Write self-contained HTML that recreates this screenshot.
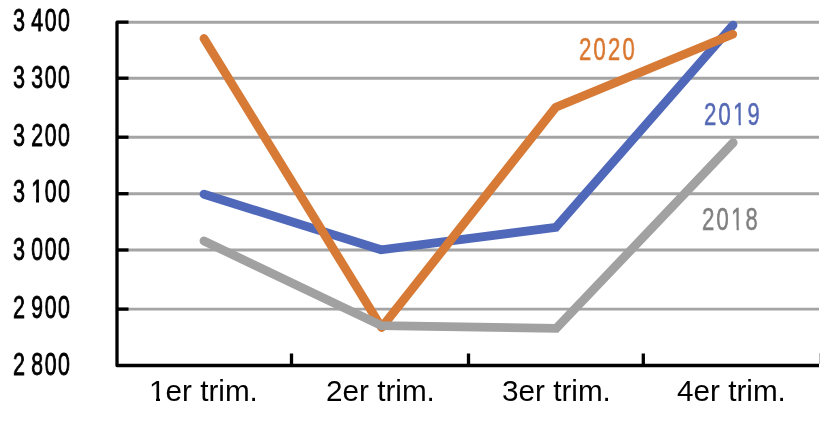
<!DOCTYPE html>
<html>
<head>
<meta charset="utf-8">
<style>
html,body{margin:0;padding:0;background:#fff;}
body{width:820px;height:432px;overflow:hidden;position:relative;}
svg{position:absolute;left:0;top:0;}
.yl{position:absolute;will-change:transform;font-family:"Liberation Sans",sans-serif;font-size:31.5px;line-height:31.5px;white-space:pre;color:#000;transform-origin:0 0;transform:scaleX(0.68);word-spacing:-4.0px;letter-spacing:2.2px;-webkit-text-stroke:0.8px #000;}
.xl{position:absolute;will-change:transform;font-family:"Liberation Sans",sans-serif;font-size:29.7px;line-height:29.7px;white-space:pre;color:#000;-webkit-text-stroke:0px #000;}
.one{position:relative;}
.one::before,.one::after{content:"";position:absolute;background:#fff;top:0.76em;height:0.22em;}
.one::before{left:0.0em;width:0.245em;}
.one::after{left:0.365em;width:0.22em;}
.sl{position:absolute;will-change:transform;font-family:"Liberation Sans",sans-serif;font-size:30.7px;line-height:30.7px;white-space:pre;transform-origin:0 0;transform:scaleX(0.72);letter-spacing:3.0px;-webkit-text-stroke:0.5px currentColor;}
</style>
</head>
<body>
<svg width="820" height="432" viewBox="0 0 820 432">
  <g stroke="#a4a4a4" stroke-width="2.9" fill="none">
    <line x1="117" y1="22.2" x2="819" y2="22.2"/>
    <line x1="117" y1="78.2" x2="819" y2="78.2"/>
    <line x1="117" y1="137.2" x2="819" y2="137.2"/>
    <line x1="117" y1="193.7" x2="819" y2="193.7"/>
    <line x1="117" y1="250" x2="819" y2="250"/>
    <line x1="117" y1="309.1" x2="819" y2="309.1"/>
  </g>
  <g stroke="#000" stroke-width="3.3" fill="none">
    <polyline points="128.5,22.2 117,22.2 117,365.5 819,365.5" stroke-linejoin="round"/>
    <line x1="117" y1="78.2" x2="128.5" y2="78.2"/>
    <line x1="117" y1="137.2" x2="128.5" y2="137.2"/>
    <line x1="117" y1="193.7" x2="128.5" y2="193.7"/>
    <line x1="117" y1="250" x2="128.5" y2="250"/>
    <line x1="117" y1="309.1" x2="128.5" y2="309.1"/>
    <line x1="291.5" y1="353.5" x2="291.5" y2="365.5"/>
    <line x1="468.5" y1="353.5" x2="468.5" y2="365.5"/>
    <line x1="643.3" y1="353.5" x2="643.3" y2="365.5"/>
  </g>
  <line x1="819.6" y1="353" x2="819.6" y2="364" stroke="#b8b8b8" stroke-width="1"/>
  <g fill="none" stroke-width="8.8" stroke-linecap="round" stroke-linejoin="miter">
    <polyline stroke="#5068b9" points="204,194.2 381,249.8 555.8,227.4 733,25.1"/>
    <polyline stroke="#d67a35" stroke-linejoin="round" points="204,38.5 381.6,327.5 555.8,107.2 732.7,34.2"/>
    <polyline stroke="#a1a1a1" points="204,241 381.5,325.6 556.3,328.4 733.2,142.6"/>
  </g>
</svg>
<div class="yl" style="left:13.3px;top:4.83px">3 400</div>
<div class="yl" style="left:13.3px;top:62.28px">3 300</div>
<div class="yl" style="left:13.3px;top:120.13px">3 200</div>
<div class="yl" style="left:13.3px;top:176.48px">3 <span class="one">1</span>00</div>
<div class="yl" style="left:13.3px;top:234.13px">3 000</div>
<div class="yl" style="left:13.3px;top:291.98px">2 900</div>
<div class="yl" style="left:13.3px;top:348.58px">2 800</div>
<div class="xl" style="left:148.7px;top:376.4px"><span class="one">1</span>er trim.</div>
<div class="xl" style="left:326.2px;top:376.4px">2er trim.</div>
<div class="xl" style="left:501.5px;top:376.4px">3er trim.</div>
<div class="xl" style="left:677.3px;top:376.4px">4er trim.</div>
<div class="sl" style="left:578.5px;top:34.94px;color:#d9772f">2020</div>
<div class="sl" style="left:703.5px;top:99.64px;color:#5468b4">20<span class="one">1</span>9</div>
<div class="sl" style="left:701.8px;top:205.34px;color:#7f7f7f">20<span class="one">1</span>8</div>
</body>
</html>
